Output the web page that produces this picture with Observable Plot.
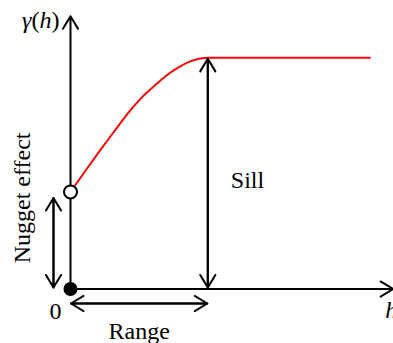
<!DOCTYPE html>
<html><head><meta charset="utf-8">
<script src="https://cdn.jsdelivr.net/npm/d3@7"></script>
<script src="https://cdn.jsdelivr.net/npm/@observablehq/plot@0.6"></script>
<style>body{margin:0;background:#fff}#chart svg{display:block;background:#fff}#chart svg text{font-family:"Liberation Serif","Times New Roman",serif}</style>
</head><body><div id="chart"></div>
<script>
// Variogram curve (lag h in units of the range, gamma in units of the sill)
const hValues = [0, 0.131, 0.226, 0.328, 0.425, 0.522, 0.619, 0.716, 0.789, 0.886, 1, 2.18];
const gammaValues = [0.42, 0.53, 0.608, 0.689, 0.765, 0.830, 0.883, 0.931, 0.960, 0.988, 1, 1];
const nugget = 0.42;
const sill = 1;
const rangeH = 1;
const hAxisEnd = 2.35;
const gammaAxisEnd = 1.18;
const labelGamma = "γ(h)";
const labelH = "h";
const labelZero = "0";
const labelSill = "Sill";
const labelNugget = "Nugget effect";
const labelRange = "Range";

const curve = hValues.map((h, i) => ({h, g: gammaValues[i]}));
const font = "'Liberation Serif', 'Times New Roman', serif";
const seg = (x1, y1, x2, y2) => [{x1, y1, x2, y2}];
const arrowOpts = (extra) => Object.assign({x1: "x1", y1: "y1", x2: "x2", y2: "y2", stroke: "black", strokeWidth: 2, headLength: 11, headAngle: 62, bend: 0}, extra);

const chart = Plot.plot({
  width: 393,
  height: 343,
  margin: 0,
  style: {background: "#fff", fontFamily: font},
  x: {domain: [0, hAxisEnd], range: [70, 70 + hAxisEnd * 137.3], axis: null},
  y: {domain: [0, gammaAxisEnd], range: [288.5, 288.5 - gammaAxisEnd * 231.2], axis: null},
  marks: [
    // axes
    Plot.arrow(seg(0, 0, 0, gammaAxisEnd), arrowOpts({})),
    Plot.arrow(seg(0, 0, hAxisEnd, 0), arrowOpts({})),
    // variogram curve
    Plot.line(curve, {x: "h", y: "g", stroke: "#ff0000", strokeWidth: 2, curve: "monotone-x"}),
    // sill double arrow
    Plot.arrow(seg(rangeH, 0, rangeH, sill), arrowOpts({insetStart: 1.5, insetEnd: 1})),
    Plot.arrow(seg(rangeH, sill, rangeH, 0), arrowOpts({insetStart: 1, insetEnd: 1.5})),
    // nugget double arrow
    Plot.arrow(seg(0, 0, 0, nugget), arrowOpts({dx: -17, insetStart: 1.5, insetEnd: 6})),
    Plot.arrow(seg(0, nugget, 0, 0), arrowOpts({dx: -17, insetStart: 6, insetEnd: 1.5})),
    // range double arrow
    Plot.arrow(seg(0, 0, rangeH, 0), arrowOpts({dy: 14.5, insetStart: 0.5, insetEnd: 0.5})),
    Plot.arrow(seg(rangeH, 0, 0, 0), arrowOpts({dy: 14.5, insetStart: 0.5, insetEnd: 0.5})),
    // points
    Plot.dot([{h: 0, g: nugget}], {x: "h", y: "g", r: 6.5, fill: "white", stroke: "black", strokeWidth: 2}),
    Plot.dot([{h: 0, g: 0}], {x: "h", y: "g", r: 7, fill: "black", stroke: "none"}),
    // labels
    Plot.text([labelGamma], {x: () => 0, y: () => gammaAxisEnd, text: d => d, textAnchor: "end", lineAnchor: "middle", dx: -11, dy: 4.6, fontSize: 24, fontFamily: font, fill: "black"}),
    Plot.text([labelH], {x: () => hAxisEnd, y: () => 0, text: d => d, textAnchor: "start", lineAnchor: "middle", dx: -8, dy: 21, fontSize: 24, fontStyle: "italic", fontFamily: font, fill: "black"}),
    Plot.text([labelZero], {x: () => 0, y: () => 0, text: d => d, textAnchor: "middle", lineAnchor: "middle", dx: -15, dy: 22, fontSize: 24, fontFamily: font, fill: "black"}),
    Plot.text([labelSill], {x: () => rangeH, y: () => sill / 2, text: d => d, textAnchor: "start", lineAnchor: "middle", dx: 23, dy: 6.5, fontSize: 24, fontFamily: font, fill: "black"}),
    Plot.text([labelRange], {x: () => rangeH / 2, y: () => 0, text: d => d, textAnchor: "middle", lineAnchor: "middle", dy: 42, fontSize: 24, fontFamily: font, fill: "black"}),
    Plot.text([labelNugget], {x: () => 0, y: () => nugget / 2, text: d => d, textAnchor: "middle", lineAnchor: "middle", rotate: -90, dx: -48, dy: -42.5, fontSize: 24, fontFamily: font, fill: "black"})
  ]
});
document.getElementById("chart").appendChild(chart);

// Italicise the variables in the gamma(h) label, keeping the parentheses upright
d3.select(chart).selectAll("text").each(function () {
  if (this.textContent === labelGamma) {
    const t = d3.select(this);
    t.text(null);
    [["γ", "italic"], ["(", "normal"], ["h", "italic"], [")", "normal"]].forEach(([s, st]) => {
      t.append("tspan").attr("font-style", st).text(s);
    });
  }
});
</script>
</body></html>
